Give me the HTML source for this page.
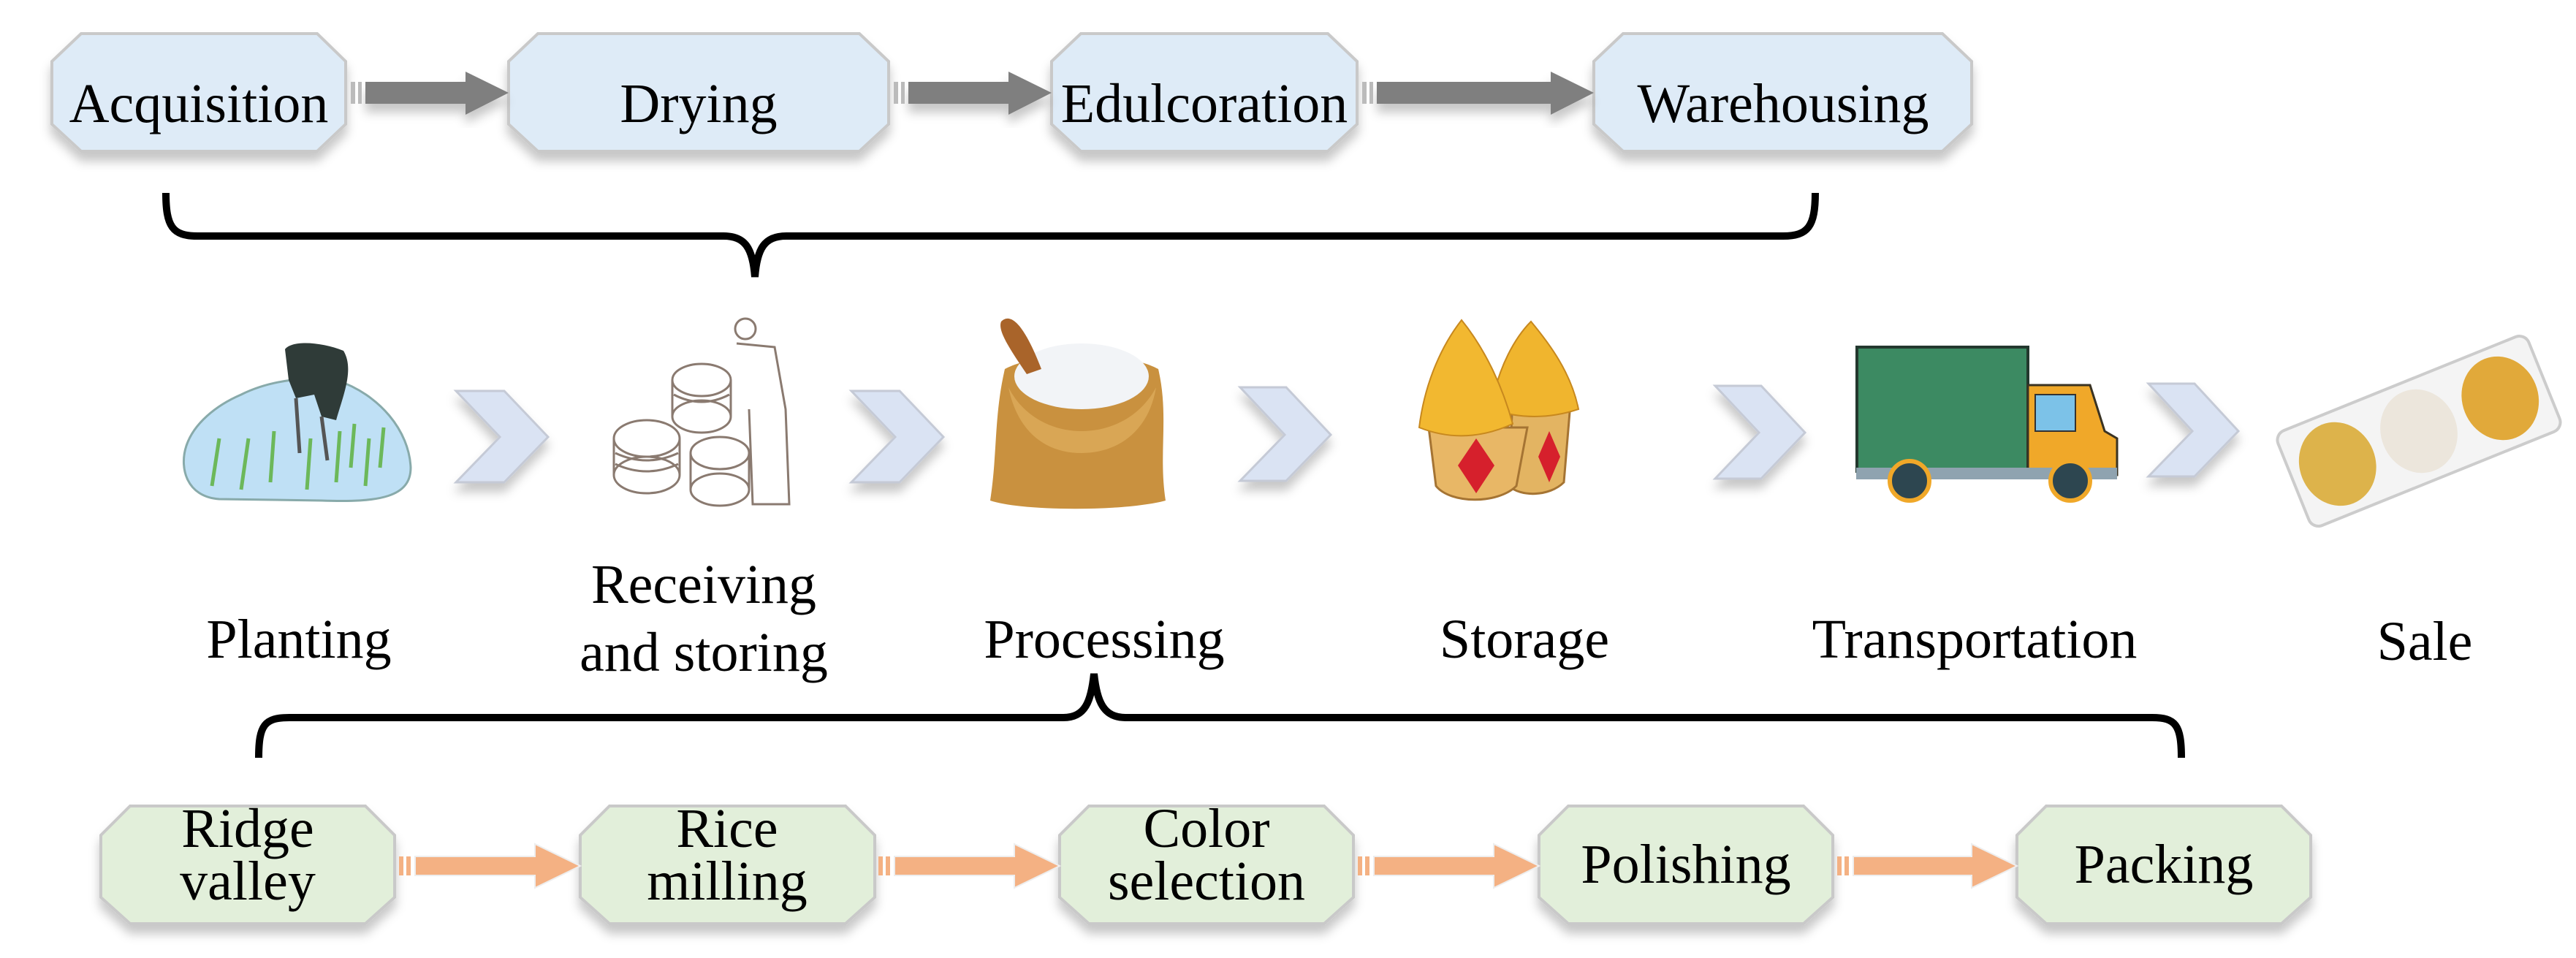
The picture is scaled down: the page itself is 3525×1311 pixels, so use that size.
<!DOCTYPE html>
<html><head><meta charset="utf-8"><style>
html,body{margin:0;padding:0;background:#fff;}
svg{display:block;}
text{font-family:"Liberation Serif",serif;font-size:76px;fill:#000;}
</style></head><body>
<svg width="3525" height="1311" viewBox="0 0 3525 1311" xmlns="http://www.w3.org/2000/svg">
<defs>
<filter id="sh" x="-10%" y="-10%" width="120%" height="140%"><feDropShadow dx="0" dy="12" stdDeviation="7" flood-color="#000" flood-opacity="0.22"/></filter>
</defs>

<!-- TOP ROW BOXES -->
<g filter="url(#sh)" fill="#deebf7" stroke="#c9c9c9" stroke-width="4">
<polygon points="111,46 434,46 473,84 473,170 434,207 111,207 71,170 71,84"/>
<polygon points="736,46 1176,46 1216,84 1216,170 1176,207 736,207 696,170 696,84"/>
<polygon points="1479,46 1817,46 1857,84 1857,170 1817,207 1479,207 1439,170 1439,84"/>
<polygon points="2221,46 2658,46 2698,84 2698,170 2658,207 2221,207 2181,170 2181,84"/>
</g>
<text x="272" y="167" text-anchor="middle">Acquisition</text>
<text x="956" y="167" text-anchor="middle">Drying</text>
<text x="1648" y="167" text-anchor="middle">Edulcoration</text>
<text x="2440" y="167" text-anchor="middle">Warehousing</text>

<!-- top arrows -->
<g fill="#7f7f7f" filter="url(#sh)">
<polygon points="500,112 637,112 637,98 696,127 637,157 637,142 500,142"/>
<polygon points="1243,112 1380,112 1380,98 1439,127 1380,157 1380,142 1243,142"/>
<polygon points="1884,112 2122,112 2122,98 2181,127 2122,157 2122,142 1884,142"/>
</g>
<g fill="#bbb">
<rect x="480" y="112" width="6" height="30"/><rect x="490" y="112" width="5" height="30"/>
<rect x="1223" y="112" width="6" height="30"/><rect x="1233" y="112" width="5" height="30"/>
<rect x="1864" y="112" width="6" height="30"/><rect x="1874" y="112" width="5" height="30"/>
</g>

<!-- braces -->
<path d="M227,264 C227,310 236,323 270,323 L990,323 C1020,323 1030,340 1033,379 C1036,340 1046,323 1076,323 L2440,323 C2474,323 2484,310 2484,264" fill="none" stroke="#000" stroke-width="10"/>
<path d="M354,1037 C354,992 362,982 396,982 L1455,982 C1485,982 1493,960 1497,922 C1501,960 1510,982 1540,982 L2945,982 C2977,982 2985,992 2985,1037" fill="none" stroke="#000" stroke-width="10"/>

<!-- chevrons -->
<g fill="#dae3f3" stroke="#c5cad6" stroke-width="3" filter="url(#sh)">
<polygon points="624,535 690,535 750,598 690,660 624,660 684,598"/>
<polygon points="1165,535 1231,535 1291,598 1231,660 1165,660 1225,598"/>
<polygon points="1697,530 1760,530 1821,595 1760,658 1697,658 1758,595"/>
<polygon points="2347,528 2410,528 2470,592 2410,655 2347,655 2407,592"/>
<polygon points="2940,525 3003,525 3063,590 3003,652 2940,652 3000,590"/>
</g>

<!-- Planting icon -->
<path d="M330,540 C370,520 420,515 460,520 C520,540 560,590 562,640 C562,680 520,688 440,685 L300,683 C255,680 245,640 255,610 C265,580 295,555 330,540 Z" fill="#bfe0f5" stroke="#8aa" stroke-width="3"/>
<g stroke="#6cb85a" stroke-width="5">
<line x1="290" y1="665" x2="300" y2="600"/><line x1="330" y1="670" x2="340" y2="600"/><line x1="370" y1="660" x2="375" y2="590"/>
<line x1="420" y1="670" x2="425" y2="600"/><line x1="460" y1="660" x2="465" y2="590"/><line x1="500" y1="665" x2="505" y2="600"/>
<line x1="480" y1="640" x2="485" y2="580"/><line x1="520" y1="640" x2="525" y2="585"/>
</g>
<path d="M390,478 C400,465 440,468 470,480 C485,505 470,540 460,575 L440,570 L430,540 L405,545 L395,520 Z" fill="#2f3b38"/>
<path d="M405,545 L410,620 M440,570 L448,630" stroke="#555" stroke-width="5"/>

<!-- Receiving icon -->
<g fill="none" stroke="#8a7a70" stroke-width="3">
<ellipse cx="885" cy="650" rx="45" ry="25"/><ellipse cx="885" cy="600" rx="45" ry="25"/><line x1="840" y1="600" x2="840" y2="650"/><line x1="930" y1="600" x2="930" y2="650"/>
<path d="M842,620 Q885,640 928,620 M842,635 Q885,655 928,635"/>
<ellipse cx="985" cy="620" rx="40" ry="22"/><ellipse cx="985" cy="670" rx="40" ry="22"/><line x1="945" y1="620" x2="945" y2="670"/><line x1="1025" y1="620" x2="1025" y2="670"/>
<ellipse cx="960" cy="520" rx="40" ry="22"/><ellipse cx="960" cy="570" rx="40" ry="22"/><line x1="920" y1="520" x2="920" y2="570"/><line x1="1000" y1="520" x2="1000" y2="570"/>
<path d="M922,540 Q960,560 998,540"/>
<circle cx="1020" cy="450" r="14"/><path d="M1008,470 L1060,475 L1075,560 L1080,690 L1030,690 L1025,560"/>
</g>

<!-- Processing sack -->
<path d="M1375,505 C1420,480 1540,480 1585,505 C1600,570 1585,620 1595,685 C1540,700 1400,700 1355,685 C1365,620 1360,570 1375,505 Z" fill="#c9913f"/>
<ellipse cx="1480" cy="515" rx="92" ry="45" fill="#f2f4f7"/>
<path d="M1380,530 C1420,610 1540,610 1582,530 C1572,590 1530,620 1480,620 C1430,620 1392,590 1380,530Z" fill="#d9a655"/>
<path d="M1370,440 C1382,428 1400,440 1425,505 L1405,512 C1380,475 1365,452 1370,440Z" fill="#a9642a"/>

<!-- Storage -->
<g>
<path d="M2070,540 L2150,540 L2140,660 C2120,680 2080,680 2065,665 Z" fill="#e3b462" stroke="#a57433" stroke-width="3"/>
<path d="M2040,560 C2050,500 2075,460 2095,440 C2120,470 2150,510 2160,560 Q2100,580 2040,560 Z" fill="#f0b52e" stroke="#c7881e" stroke-width="2"/>
<polygon points="2120,590 2135,625 2120,660 2105,625" fill="#d6202c"/>
<path d="M1955,585 L2090,585 L2075,665 C2050,690 1985,690 1965,665 Z" fill="#e8b766" stroke="#a57433" stroke-width="3"/>
<path d="M1942,585 C1950,520 1975,470 2000,438 C2030,475 2055,525 2070,580 Q2005,610 1942,585 Z" fill="#f2b830" stroke="#c7881e" stroke-width="2"/>
<polygon points="2020,600 2045,637 2020,675 1995,637" fill="#d6202c"/>
</g>

<!-- Truck -->
<rect x="2541" y="475" width="234" height="170" fill="#3c8a62" stroke="#23382e" stroke-width="4"/>
<path d="M2775,527 L2860,527 L2880,590 L2897,600 L2897,650 L2775,650 Z" fill="#f0a829" stroke="#3a3323" stroke-width="3"/>
<rect x="2785" y="540" width="55" height="50" fill="#7cc2e8" stroke="#333" stroke-width="2"/>
<rect x="2540" y="640" width="357" height="16" fill="#8fa3b0"/>
<circle cx="2613" cy="658" r="27" fill="#2d4650" stroke="#f0a829" stroke-width="6"/>
<circle cx="2833" cy="658" r="27" fill="#2d4650" stroke="#f0a829" stroke-width="6"/>

<!-- Sale tray -->
<g transform="rotate(-22 3310 590)">
<rect x="3125" y="520" width="370" height="140" rx="14" fill="#f4f4f4" stroke="#ccc" stroke-width="4"/>
<ellipse cx="3190" cy="590" rx="52" ry="58" fill="#ddb34b"/>
<ellipse cx="3310" cy="590" rx="52" ry="58" fill="#ece6dc"/>
<ellipse cx="3430" cy="590" rx="52" ry="58" fill="#e1a93a"/>
</g>

<!-- middle labels -->
<text x="409" y="900" text-anchor="middle">Planting</text>
<text x="963" y="825" text-anchor="middle">Receiving</text>
<text x="963" y="918" text-anchor="middle">and storing</text>
<text x="1511" y="900" text-anchor="middle">Processing</text>
<text x="2086" y="900" text-anchor="middle">Storage</text>
<text x="2702" y="900" text-anchor="middle">Transportation</text>
<text x="3318" y="903" text-anchor="middle">Sale</text>

<!-- BOTTOM ROW BOXES -->
<g filter="url(#sh)" fill="#e2efda" stroke="#c9c9c9" stroke-width="4">
<polygon points="178,1103 500,1103 540,1143 540,1228 500,1264 178,1264 138,1228 138,1143"/>
<polygon points="834,1103 1157,1103 1197,1143 1197,1228 1157,1264 834,1264 794,1228 794,1143"/>
<polygon points="1490,1103 1812,1103 1852,1143 1852,1228 1812,1264 1490,1264 1450,1228 1450,1143"/>
<polygon points="2146,1103 2468,1103 2508,1143 2508,1228 2468,1264 2146,1264 2106,1228 2106,1143"/>
<polygon points="2800,1103 3122,1103 3162,1143 3162,1228 3122,1264 2800,1264 2760,1228 2760,1143"/>
</g>
<text x="339" y="1159" text-anchor="middle">Ridge</text>
<text x="339" y="1231" text-anchor="middle">valley</text>
<text x="995" y="1159" text-anchor="middle">Rice</text>
<text x="995" y="1231" text-anchor="middle">milling</text>
<text x="1651" y="1159" text-anchor="middle">Color</text>
<text x="1651" y="1231" text-anchor="middle">selection</text>
<text x="2307" y="1208" text-anchor="middle">Polishing</text>
<text x="2961" y="1208" text-anchor="middle">Packing</text>

<!-- bottom arrows -->
<g fill="#f4b183" stroke="#eee" stroke-width="2">
<polygon points="568,1172 732,1172 732,1155 794,1185 732,1215 732,1198 568,1198"/>
<polygon points="1224,1172 1388,1172 1388,1155 1450,1185 1388,1215 1388,1198 1224,1198"/>
<polygon points="1880,1172 2044,1172 2044,1155 2106,1185 2044,1215 2044,1198 1880,1198"/>
<polygon points="2536,1172 2698,1172 2698,1155 2760,1185 2698,1215 2698,1198 2536,1198"/>
</g>
<g fill="#f4b183">
<rect x="546" y="1172" width="6" height="26"/><rect x="556" y="1172" width="6" height="26"/>
<rect x="1202" y="1172" width="6" height="26"/><rect x="1212" y="1172" width="6" height="26"/>
<rect x="1858" y="1172" width="6" height="26"/><rect x="1868" y="1172" width="6" height="26"/>
<rect x="2514" y="1172" width="6" height="26"/><rect x="2524" y="1172" width="6" height="26"/>
</g>
</svg>
</body></html>
